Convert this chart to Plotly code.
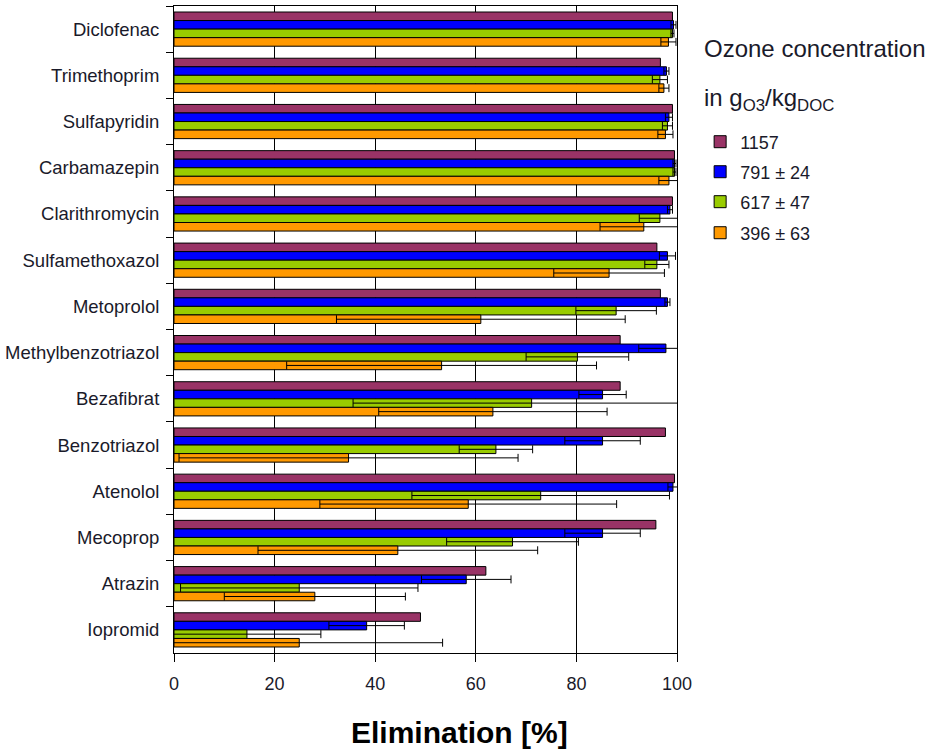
import plotly.graph_objects as go

categories = ["Diclofenac", "Trimethoprim", "Sulfapyridin", "Carbamazepin", "Clarithromycin",
              "Sulfamethoxazol", "Metoprolol", "Methylbenzotriazol", "Bezafibrat", "Benzotriazol",
              "Atenolol", "Mecoprop", "Atrazin", "Iopromid"]

series_names = ["1157", "791 ± 24", "617 ± 47", "396 ± 63"]

v1157 = [99.1, 96.7, 99.1, 99.5, 99.1, 96.0, 96.7, 88.7, 88.7, 97.7, 99.5, 95.8, 62.0, 49.0]

v791 = [99.3, 97.9, 98.4, 99.5, 98.6, 98.1, 98.1, 97.8, 85.2, 85.2, 99.2, 85.2, 58.1, 38.3]
e791 = [0.5, 0.5, 0.7, 0.3, 0.5, 1.6, 0.5, 5.4, 4.7, 7.5, 1.0, 7.5, 8.9, 7.5]

v617 = [99.1, 96.6, 98.1, 99.5, 96.6, 96.0, 87.9, 80.2, 71.1, 64.0, 72.9, 67.3, 24.9, 14.5]
e617 = [0.3, 1.5, 1.0, 0.3, 4.1, 2.4, 8.0, 10.2, 35.5, 7.3, 25.6, 13.1, 23.6, 14.7]

v396 = [98.3, 97.4, 97.7, 98.4, 93.4, 86.5, 61.0, 53.2, 63.4, 34.7, 58.5, 44.5, 28.0, 24.9]
e396 = [1.5, 1.0, 1.5, 2.0, 8.7, 11.0, 28.7, 30.8, 22.7, 33.7, 29.5, 27.8, 18.0, 28.5]

colors = ["#993366", "#0000FF", "#99CC00", "#FF9900"]
values = [v1157, v791, v617, v396]
errors = [None, e791, e617, e396]

FONT = "Arial, Liberation Sans, sans-serif"
TXT = "#1a1a2a"

legend_ids = ["legend", "legend2", "legend3", "legend4"]
legend_y = [0.8184, 0.772, 0.7257, 0.6777]

fig = go.Figure()
for name, vals, errs, col, lid in zip(series_names, values, errors, colors, legend_ids):
    kw = {}
    if errs is not None:
        kw["error_x"] = dict(type="data", array=errs, visible=True, color="black",
                             thickness=1, width=4)
    fig.add_trace(go.Bar(
        y=categories, x=vals, orientation="h", name=name, legend=lid,
        marker=dict(color=col, line=dict(color="black", width=1)),
        **kw))

legend_common = dict(x=1.046, xanchor="left", yanchor="top",
                     font=dict(size=18, color=TXT), itemwidth=30,
                     bgcolor="rgba(0,0,0,0)")

fig.update_layout(
    width=933, height=751,
    margin=dict(l=174, r=256, t=6, b=98),
    paper_bgcolor="white", plot_bgcolor="white",
    barmode="group", bargap=0.26, bargroupgap=0,
    font=dict(family=FONT, color=TXT),
    showlegend=True,
    legend=dict(y=legend_y[0], **legend_common),
    legend2=dict(y=legend_y[1], **legend_common),
    legend3=dict(y=legend_y[2], **legend_common),
    legend4=dict(y=legend_y[3], **legend_common),
    xaxis=dict(range=[0, 100], dtick=20, tick0=0, ticks="outside", ticklen=8,
               tickcolor="black", showgrid=True, gridcolor="black", gridwidth=1,
               showline=True, linecolor="black", linewidth=1, mirror=True,
               ticklabelstandoff=6,
               tickfont=dict(size=18, color=TXT), zeroline=False),
    yaxis=dict(type="category", autorange="reversed", tickson="boundaries",
               ticks="outside", ticklen=7, tickcolor="black", showgrid=False,
               showline=True, linecolor="black", linewidth=1, mirror=True,
               ticklabelstandoff=10,
               tickfont=dict(size=18.5, color=TXT)),
    annotations=[
        dict(text="<b>Elimination [%]</b>", xref="paper", yref="paper",
             x=0.567, y=-0.1236, xanchor="center", yanchor="middle",
             showarrow=False, font=dict(size=30, color="black", family=FONT)),
        dict(text="Ozone concentration", xref="paper", yref="paper",
             x=1.0497, y=0.935, xanchor="left", yanchor="middle",
             showarrow=False, font=dict(size=24, color=TXT, family=FONT)),
        dict(text="in g<sub>O3</sub>/kg<sub>DOC</sub>", xref="paper", yref="paper",
             x=1.0497, y=0.855, xanchor="left", yanchor="middle",
             showarrow=False, font=dict(size=24, color=TXT, family=FONT)),
    ],
)

fig.write_html("out.html", config={"displayModeBar": False},
               post_script="document.body.style.margin='0';")
